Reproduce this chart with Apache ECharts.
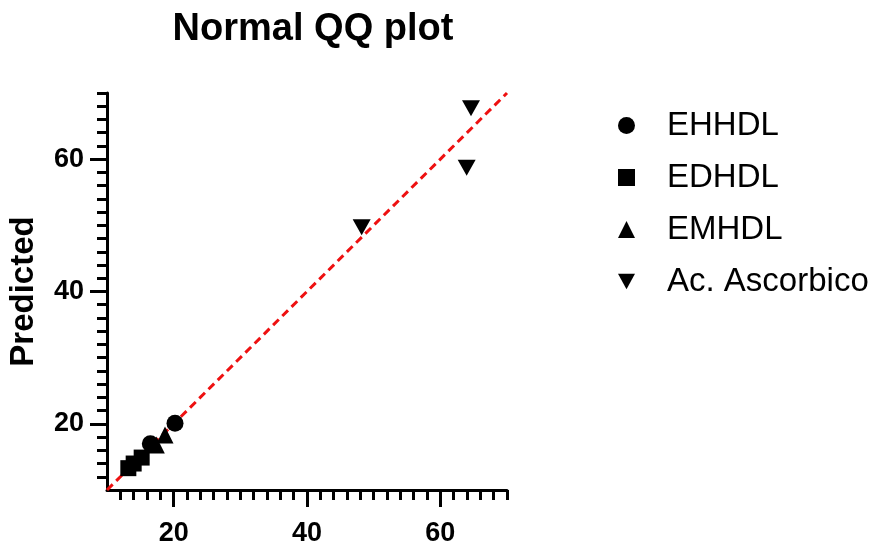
<!DOCTYPE html>
<html>
<head>
<meta charset="utf-8">
<script src="https://cdn.jsdelivr.net/npm/echarts@6/dist/echarts.min.js"></script>
<style>
  html, body { margin: 0; padding: 0; background: #fff; }
  #chart { width: 875px; height: 547px; }
</style>
</head>
<body>
<div id="chart"></div>
<script>
var FONT = '"Liberation Sans", Arial, Helvetica, sans-serif';

var ehhdl = [[20.2, 20.1], [16.5, 17.0]];
var edhdl = [[13.2, 13.3], [14.0, 14.0], [15.2, 14.9]];
var emhdl = [[18.7, 18.3], [17.4, 16.8]];
var ascorbico = [[48.2, 49.7], [63.95, 58.7], [64.6, 67.7]];
var refLine = [[10, 10], [70, 70]];

var seriesNames = ['EHHDL', 'EDHDL', 'EMHDL', 'Ac. Ascorbico'];
var majorTicks = [20, 40, 60];
var axisMin = 10, axisMax = 70;

// minor ticks every 2 units
var minorTicks = [];
for (var v = axisMin + 2; v <= axisMax; v += 2) minorTicks.push(v);

var downTri = 'path://M0,0 L10,0 L5,9 Z';

var myChart = echarts.init(document.getElementById('chart'));

function makeAxes(isY) {
    var main = {
        type: 'value',
        min: axisMin,
        max: axisMax,
        axisLine: { show: true, lineStyle: { color: '#000', width: 3 } },
        axisTick: { show: true, customValues: minorTicks, length: 10, lineStyle: { color: '#000', width: 3 } },
        axisLabel: {
            customValues: majorTicks,
            color: '#000', fontFamily: FONT, fontWeight: 'bold', fontSize: 27,
            margin: isY ? 23 : 30
        },
        splitLine: { show: false }
    };
    var major = {
        type: 'value',
        min: axisMin,
        max: axisMax,
        position: isY ? 'left' : 'bottom',
        axisLine: { show: false },
        axisTick: { show: true, customValues: majorTicks, length: 17, lineStyle: { color: '#000', width: 3 } },
        axisLabel: { show: false },
        splitLine: { show: false }
    };
    if (isY) {
        main.name = 'Predicted';
        main.nameLocation = 'middle';
        main.nameGap = 67;
        main.nameTextStyle = { color: '#000', fontFamily: FONT, fontWeight: 'bold', fontSize: 33 };
    }
    return [main, major];
}

var option = {
    backgroundColor: '#fff',
    animation: false,
    title: {
        text: 'Normal QQ plot',
        left: 308,
        top: 6,
        textAlign: 'center',
        textStyle: { color: '#000', fontFamily: FONT, fontWeight: 'bold', fontSize: 38 }
    },
    legend: {
        orient: 'vertical',
        left: 613,
        top: 104,
        itemWidth: 17,
        itemHeight: 17,
        itemGap: 19,
        data: [
            { name: seriesNames[0], icon: 'circle' },
            { name: seriesNames[1], icon: 'rect' },
            { name: seriesNames[2], icon: 'triangle' },
            { name: seriesNames[3], icon: downTri }
        ],
        textStyle: { color: '#000', fontFamily: FONT, fontSize: 33, padding: [0, 0, 0, 27] }
    },
    grid: { left: 107, top: 93, width: 400, height: 400, containLabel: false },
    xAxis: makeAxes(false),
    yAxis: makeAxes(true),
    series: [
        {
            name: 'ref', type: 'line', data: refLine, symbol: 'none', silent: true,
            lineStyle: { color: '#ee1111', width: 3, type: [8, 5] }, z: 1
        },
        { name: seriesNames[1], type: 'scatter', data: edhdl, symbol: 'rect', symbolSize: 16, itemStyle: { color: '#000', opacity: 1 }, z: 3 },
        { name: seriesNames[2], type: 'scatter', data: emhdl, symbol: 'triangle', symbolSize: 17, itemStyle: { color: '#000', opacity: 1 }, z: 3 },
        { name: seriesNames[0], type: 'scatter', data: ehhdl, symbol: 'circle', symbolSize: 17, itemStyle: { color: '#000', opacity: 1 }, z: 3 },
        { name: seriesNames[3], type: 'scatter', data: ascorbico, symbol: downTri, symbolSize: [18, 16], itemStyle: { color: '#000', opacity: 1 }, z: 3 }
    ]
};

myChart.setOption(option);
</script>
</body>
</html>
